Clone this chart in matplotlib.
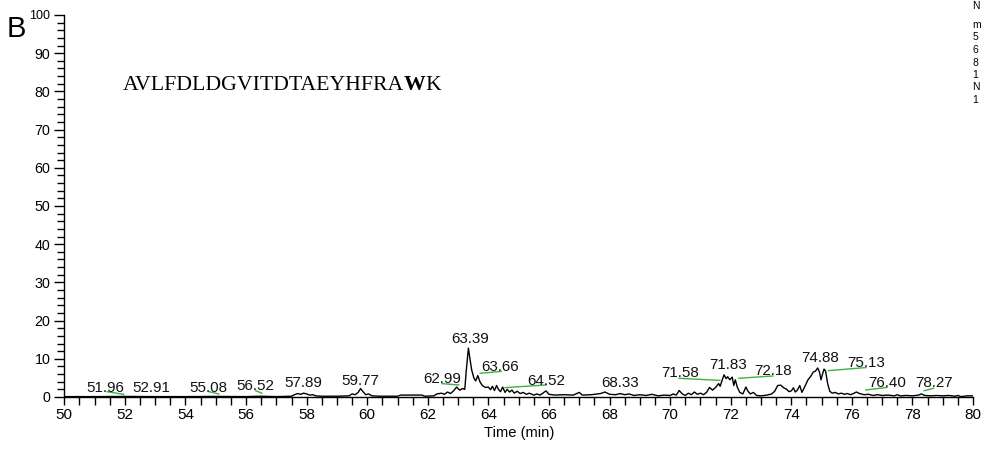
import matplotlib
matplotlib.use("Agg")
import matplotlib.pyplot as plt
from matplotlib.ticker import MultipleLocator

plt.rcParams['font.family'] = ['Liberation Sans', 'DejaVu Sans']

# Chromatogram trace: retention time (min) and relative abundance (%)
time_min = [50.0, 51.0, 52.0, 53.0, 54.0, 55.0, 56.0, 56.5, 57.0, 57.5,
            57.6, 57.7, 57.8, 57.9, 58.0, 58.1, 58.2, 58.3, 58.5, 59.0,
            59.4, 59.5, 59.6, 59.7, 59.78, 59.85, 59.95, 60.05, 60.15, 60.4,
            61.0, 61.1, 61.8, 61.9, 62.2, 62.3, 62.45, 62.55, 62.65, 62.75,
            62.85, 62.95, 63.05, 63.15, 63.22, 63.27, 63.34, 63.4, 63.45, 63.52,
            63.58, 63.65, 63.72, 63.8, 63.9, 64.0, 64.07, 64.13, 64.2, 64.27,
            64.33, 64.4, 64.47, 64.55, 64.62, 64.7, 64.78, 64.85, 64.95, 65.05,
            65.15, 65.25, 65.35, 65.5, 65.6, 65.7, 65.8, 65.9, 66.0, 66.2,
            66.5, 66.8, 67.0, 67.1, 67.4, 67.7, 67.85, 68.0, 68.2, 68.35,
            68.5, 68.65, 68.8, 69.0, 69.2, 69.4, 69.6, 69.8, 70.0, 70.1,
            70.2, 70.3, 70.4, 70.5, 70.6, 70.7, 70.8, 70.9, 71.0, 71.1,
            71.2, 71.3, 71.4, 71.5, 71.6, 71.65, 71.7, 71.78, 71.85, 71.9,
            71.97, 72.05, 72.1, 72.15, 72.22, 72.3, 72.4, 72.5, 72.57, 72.65,
            72.75, 72.85, 73.0, 73.2, 73.35, 73.45, 73.55, 73.65, 73.75, 73.85,
            73.92, 74.0, 74.07, 74.13, 74.2, 74.28, 74.35, 74.45, 74.55, 74.65,
            74.72, 74.8, 74.87, 74.93, 74.98, 75.03, 75.08, 75.13, 75.2, 75.27,
            75.35, 75.45, 75.55, 75.65, 75.75, 75.85, 75.95, 76.05, 76.15, 76.25,
            76.4, 76.55, 76.7, 76.85, 77.0, 77.2, 77.4, 77.5, 77.6, 77.8,
            78.0, 78.2, 78.3, 78.4, 78.6, 78.8, 79.0, 79.2, 79.4, 79.5,
            79.6, 79.8, 80.0]
abundance = [0.1, 0.1, 0.15, 0.1, 0.1, 0.15, 0.1, 0.2, 0.1, 0.2,
             0.6, 0.9, 0.7, 1.0, 0.8, 0.5, 0.6, 0.3, 0.2, 0.2,
             0.3, 0.8, 0.6, 1.2, 2.2, 1.5, 0.6, 0.8, 0.3, 0.2,
             0.2, 0.5, 0.5, 0.2, 0.3, 0.8, 1.0, 0.7, 1.3, 0.9,
             1.6, 2.6, 1.8, 2.2, 2.0, 7.0, 12.8, 9.5, 7.0, 5.0,
             4.2, 5.6, 4.0, 3.0, 2.5, 2.6, 1.9, 2.8, 1.7, 3.0,
             2.0, 1.4, 2.6, 1.2, 2.0, 1.3, 1.8, 1.0, 1.5, 0.9,
             1.2, 0.7, 1.0, 0.5, 0.8, 0.5, 1.0, 1.6, 0.7, 0.5,
             0.6, 0.5, 1.2, 0.5, 0.6, 0.9, 1.3, 0.7, 0.6, 0.9,
             0.6, 0.8, 0.4, 0.6, 0.4, 0.7, 0.3, 0.5, 0.4, 0.8,
             0.5, 1.7, 0.8, 0.4, 1.0, 0.6, 1.3, 0.7, 1.0, 0.6,
             1.2, 2.5, 1.8, 2.5, 3.5, 2.8, 4.0, 5.8, 4.8, 5.3,
             4.5, 5.2, 3.0, 4.5, 2.5, 1.2, 0.8, 2.6, 1.5, 0.8,
             1.2, 0.4, 0.3, 0.5, 0.8, 1.5, 3.0, 3.1, 2.4, 2.0,
             1.4, 1.6, 2.4, 1.3, 1.8, 3.0, 1.2, 2.8, 4.5, 5.5,
             6.5, 6.8, 7.6, 6.5, 4.5, 6.0, 7.3, 6.8, 3.5, 1.5,
             1.0, 1.2, 0.8, 1.0, 0.7, 0.9, 0.6, 0.9, 1.3, 0.9,
             0.6, 0.7, 0.4, 0.6, 0.4, 0.5, 0.3, 0.6, 0.3, 0.4,
             0.3, 0.5, 0.8, 0.4, 0.3, 0.4, 0.3, 0.4, 0.2, 0.4,
             0.1, 0.3, 0.3]

# Peak annotations: label text and anchor (baseline centre) in data units
peak_labels = ["51.96", "52.91", "55.08", "56.52", "57.89", "59.77", "62.99",
               "63.39", "63.66", "64.52", "68.33", "71.58", "71.83", "72.18",
               "74.88", "75.13", "76.40", "78.27"]
label_x = [51.36, 52.87, 54.75, 56.30, 57.90, 59.77, 62.47,
           63.40, 64.39, 65.91, 68.36, 70.34, 71.90, 73.41,
           74.95, 76.47, 77.16, 78.72]
label_y = [1.39, 1.39, 1.39, 1.84, 2.55, 3.15, 3.6,
           14.17, 6.9, 3.15, 2.7, 5.17, 7.35, 5.77,
           9.27, 7.8, 2.7, 2.55]

# Leader lines joining displaced labels to their peaks
leader_x0 = [51.41, 54.77, 56.32, 62.47, 63.73, 64.55, 70.29, 72.27, 75.23, 76.46, 78.39]
leader_y0 = [1.38, 1.40, 1.65, 3.50, 6.20, 2.45, 4.90, 4.90, 6.90, 1.84, 1.65]
leader_x1 = [51.96, 55.10, 56.52, 63.02, 64.42, 65.91, 71.64, 73.39, 76.46, 77.16, 78.70]
leader_y1 = [0.70, 0.80, 0.97, 3.15, 6.70, 3.15, 4.35, 5.50, 7.70, 2.50, 2.28]

peptide_plain = "AVLFDLDGVITDTAEYHFRA"
peptide_bold = "W"
peptide_tail = "K"

# Header column at the right margin (only its first characters fit)
header_lines = ["N", "m", "5", "6", "8", "1", "N", "1"]
header_y_px = [6, 25, 37, 50, 63, 75, 87, 100]

fig = plt.figure(figsize=(9.82, 4.5), dpi=100)
ax = fig.add_axes([0.0655, 0.1178, 0.9254, 0.8489])

ax.plot(time_min, abundance, color='black', lw=1.0, zorder=3)

for x0, y0, x1, y1 in zip(leader_x0, leader_y0, leader_x1, leader_y1):
    ax.plot([x0, x1], [y0, y1], color='#3cb043', lw=1.0, zorder=2)

for t, x, y in zip(peak_labels, label_x, label_y):
    ax.text(x, y, t, ha='center', va='baseline', fontsize=10.9, color='#111111')

ax.set_xlim(50, 80)
ax.set_ylim(0, 100)
ax.xaxis.set_major_locator(MultipleLocator(2))
ax.xaxis.set_minor_locator(MultipleLocator(0.5))
ax.yaxis.set_major_locator(MultipleLocator(10))
ax.yaxis.set_minor_locator(MultipleLocator(2))

for side in ('top', 'right'):
    ax.spines[side].set_visible(False)
for side in ('left', 'bottom'):
    ax.spines[side].set_linewidth(1.0)

ax.tick_params(axis='x', which='both', direction='out', length=6, width=1.0,
               labelsize=11, pad=2)
ax.tick_params(axis='y', which='major', direction='out', length=7, width=1.0,
               labelsize=10.3, pad=3)
ax.tick_params(axis='y', which='minor', direction='out', length=5, width=1.0)
for lbl in ax.get_yticklabels():
    if lbl.get_text() == '100':
        lbl.set_fontsize(9)

ax.set_xlabel("Time (min)", fontsize=10.6, labelpad=3)

fig.text(7 / 982, 1 - 37 / 450, "B", fontsize=21, ha='left', va='baseline')

# Peptide sequence with the bold residue
fig.canvas.draw()
renderer = fig.canvas.get_renderer()
x_px, base_y = 122.7, 1 - 90 / 450
parts = [(peptide_plain, 'normal'), (peptide_bold, 'bold'), (peptide_tail, 'normal')]
for txt, weight in parts:
    t = fig.text(x_px / 982, base_y, txt, fontsize=15.7, family='Liberation Serif',
                 weight=weight, ha='left', va='baseline')
    bb = t.get_window_extent(renderer)
    x_px = bb.x1

for line, ypx in zip(header_lines, header_y_px):
    fig.text(972.5 / 982, 1 - ypx / 450, line, fontsize=7.5, ha='left', va='center')

fig.savefig("out.png", dpi=100)
